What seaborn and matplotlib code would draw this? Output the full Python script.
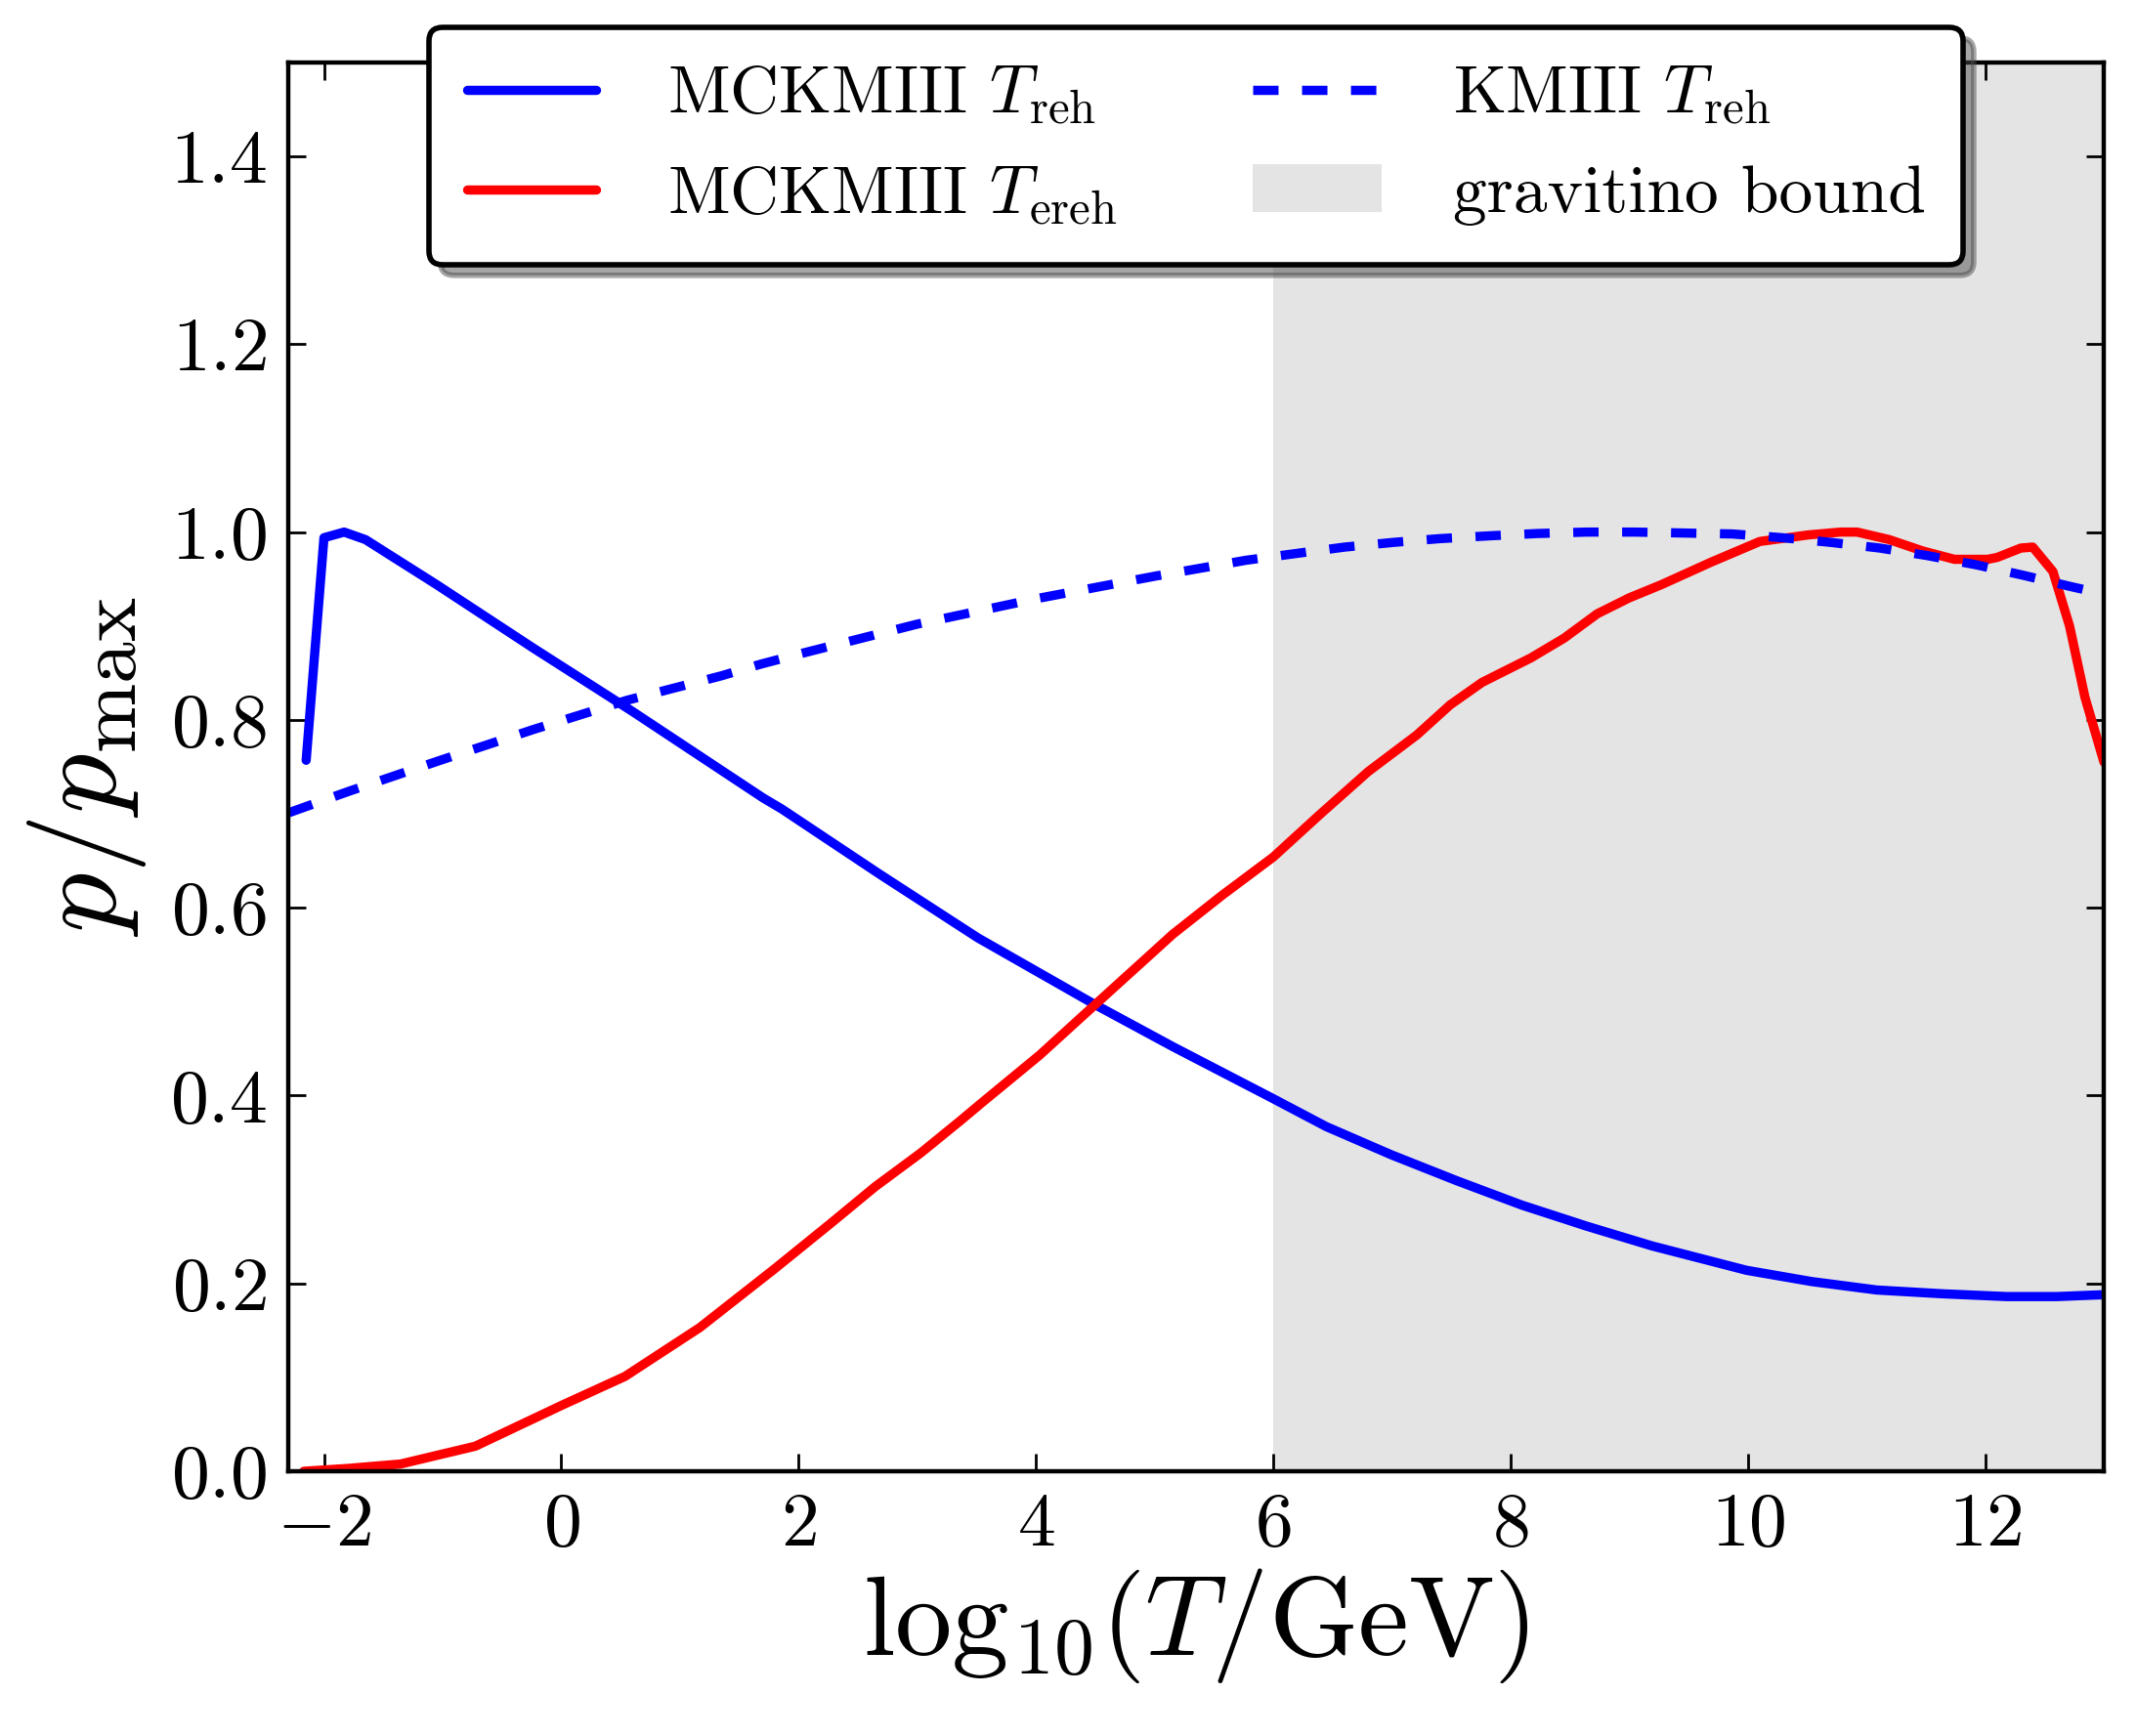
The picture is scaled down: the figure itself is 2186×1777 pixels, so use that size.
import numpy as np
import pandas as pd
import matplotlib
matplotlib.use('Agg')
import matplotlib.pyplot as plt
import seaborn as sns
from matplotlib.patches import Patch
from matplotlib.lines import Line2D

# MCKMIII T_reh (blue solid)
mck_reh_x = [-2.15, -2.0, -1.83, -1.65, -1.05, -0.23, 0.6, 1.7, 1.86, 2.68, 3.51, 4.496,
             5.155, 5.98, 6.446, 6.994, 7.543, 8.092, 8.64, 9.19, 9.987, 10.536, 11.085,
             11.635, 12.18, 12.6, 13.0]
mck_reh_y = [0.757, 0.994, 1.0, 0.992, 0.944, 0.876, 0.809, 0.717, 0.705, 0.636, 0.568, 0.497,
             0.452, 0.398, 0.367, 0.337, 0.3095, 0.2835, 0.261, 0.240, 0.214, 0.202, 0.193,
             0.189, 0.186, 0.186, 0.188]

# MCKMIII T_ereh (red)
mck_ereh_x = [-2.17, -1.8, -1.355, -0.724, 0.0, 0.537, 1.167, 1.798, 2.271, 2.645, 3.03,
              3.37, 3.54, 4.03, 4.5, 5.155, 5.566, 6.0, 6.39, 6.80, 7.21, 7.49, 7.76, 8.17,
              8.45, 8.73, 9.0, 9.27, 9.69, 10.1, 10.51, 10.78, 10.92, 11.19, 11.47, 11.74,
              12.02, 12.1, 12.3, 12.4, 12.57, 12.71, 12.84, 13.0]
mck_ereh_y = [0.0, 0.003, 0.0077, 0.0267, 0.070, 0.101, 0.153, 0.2156, 0.264, 0.303, 0.339,
              0.374, 0.392, 0.443, 0.497, 0.572, 0.613, 0.654, 0.699, 0.745, 0.784, 0.816,
              0.840, 0.866, 0.887, 0.913, 0.930, 0.944, 0.968, 0.990, 0.997, 1.0, 1.0, 0.992,
              0.98, 0.971, 0.971, 0.973, 0.983, 0.984, 0.958, 0.90, 0.824, 0.755]

# KMIII T_reh (blue dashed)
km_reh_x = [-2.3, -1.79, -1.02, -0.23, 0.556, 1.35, 1.67, 2.0, 3.0, 4.0, 5.0, 5.77, 6.18,
            6.6, 7.01, 7.4, 7.82, 8.23, 8.64, 9.05, 9.46, 9.87, 10.29, 10.7, 11.11, 11.51,
            11.93, 12.32, 12.72, 13.0]
km_reh_y = [0.701, 0.724, 0.757, 0.790, 0.821, 0.847, 0.859, 0.870, 0.902, 0.929, 0.953,
            0.970, 0.977, 0.984, 0.989, 0.993, 0.996, 0.9985, 1.0, 1.0, 0.999, 0.998, 0.994,
            0.989, 0.983, 0.975, 0.965, 0.954, 0.942, 0.934]

gravitino_lo, gravitino_hi = 6.0, 13.0

xticks = [-2, 0, 2, 4, 6, 8, 10, 12]
yticks = [0.0, 0.2, 0.4, 0.6, 0.8, 1.0, 1.2, 1.4]

sns.set_style('ticks')
plt.rcParams['font.family'] = ['cmr10', 'DejaVu Serif']
plt.rcParams['mathtext.fontset'] = 'cm'
plt.rcParams['axes.formatter.use_mathtext'] = True
for key in ['text.color', 'axes.labelcolor', 'xtick.color', 'ytick.color', 'axes.edgecolor']:
    plt.rcParams[key] = 'black'

fig, ax = plt.subplots(figsize=(10.93, 8.885), dpi=200)
fig.subplots_adjust(left=0.135, right=0.985, bottom=0.1525, top=0.964)

ax.axvspan(gravitino_lo, gravitino_hi, color='#e4e4e4', lw=0, zorder=0)

lw = 3.4
dash = (0, (2.75, 2.55))
sns.lineplot(x=mck_reh_x, y=mck_reh_y, color='#0000ff', linewidth=lw, ax=ax, sort=False)
sns.lineplot(x=mck_ereh_x, y=mck_ereh_y, color='#ff0000', linewidth=lw, ax=ax, sort=False)
sns.lineplot(x=km_reh_x, y=km_reh_y, color='#0000ff', linewidth=lw, ax=ax, sort=False,
             linestyle=dash)

ax.set_xlim(-2.3, 13)
ax.set_ylim(0, 1.5)
ax.set_xticks(xticks)
ax.set_yticks(yticks)
ax.set_yticklabels([r'$%.1f$' % v for v in yticks])
ax.set_xticklabels([r'$%d$' % v for v in xticks])
ax.tick_params(direction='in', top=True, right=True, length=6.5, width=1.0,
               labelsize=28, pad=8, colors='black')
for s in ax.spines.values():
    s.set_linewidth(1.6)
    s.set_color('k')

ax.set_xlabel(r'$\mathrm{log}_{10}(T/\mathrm{GeV})$', fontsize=42, labelpad=2)
ax.set_ylabel(r'$p/p_{\rm max}$', fontsize=44, labelpad=8)

handles = [
    Line2D([], [], color='#0000ff', lw=lw),
    Line2D([], [], color='#ff0000', lw=lw),
    Line2D([], [], color='#0000ff', lw=lw, linestyle=dash),
    Patch(facecolor='#e4e4e4', edgecolor='none'),
]
labels = [r'MCKMIII $T_{\rm reh}$', r'MCKMIII $T_{\rm ereh}$',
          r'KMIII $T_{\rm reh}$', 'gravitino bound']
leg = ax.legend(handles, labels, ncol=2, loc='upper center', bbox_to_anchor=(0.5, 1.025),
                borderaxespad=0, fontsize=25, fancybox=True,
                shadow={'ox': 4, 'oy': -4}, framealpha=1, edgecolor='k',
                handlelength=1.9, handletextpad=1.05, columnspacing=2.0, labelspacing=0.55,
                borderpad=0.55)
leg.get_frame().set_linewidth(2.0)

fig.savefig('out.png', dpi=200)
